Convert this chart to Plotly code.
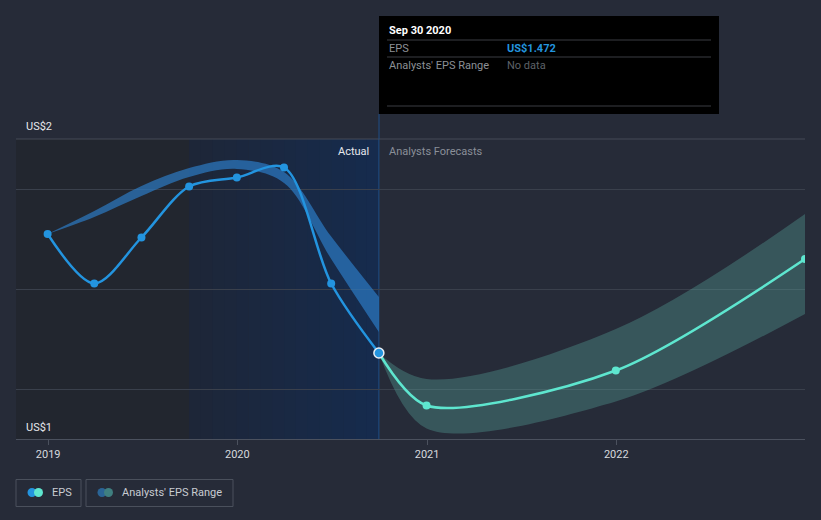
import plotly.graph_objects as go
import datetime as _dt

# ---------------- data ----------------
eps_dates = ['2018-12-31', '2019-03-31', '2019-06-30', '2019-09-30',
             '2019-12-31', '2020-03-31', '2020-06-30', '2020-09-30']
eps_values = [1.710, 1.611, 1.703, 1.805, 1.823, 1.843, 1.611, 1.472]

past_range_low = [1.710, 1.744, 1.786, 1.824, 1.840, 1.812, 1.660, 1.514]
past_range_high = [1.710, 1.756, 1.806, 1.842, 1.858, 1.834, 1.705, 1.584]

fc_dates = ['2020-09-30', '2020-12-31', '2021-12-31', '2022-12-31']
fc_values = [1.472, 1.367, 1.437, 1.660]
fc_low = [1.472, 1.321, 1.375, 1.550]
fc_high = [1.472, 1.420, 1.520, 1.750]

y_label_vals = [1.9, 1.3]
y_label_text = ['US$2', 'US$1']
grid_vals = [1.4, 1.6, 1.8]

tooltip_date = 'Sep 30 2020'
tooltip_eps = 'US$1.472'

# ---------------- layout helpers ----------------
W, H = 821, 520
L, R, T, B = 16, 805, 139, 439
X_RANGE = ['2018-10-31', '2022-12-31']
Y_RANGE = [1.3, 1.9]

def px(x):
    return (x - L) / (R - L)

def py(y):
    return (B - y) / (B - T)

BG = '#262b38'
BLUE = '#2394df'
TEAL = '#5ee6cf'

fig = go.Figure()

# past analyst range band
fig.add_trace(go.Scatter(x=eps_dates, y=past_range_low, mode='lines',
                         line=dict(width=0, shape='spline', smoothing=1.0, color='rgba(0,0,0,0)'),
                         showlegend=False, hoverinfo='skip'))
fig.add_trace(go.Scatter(x=eps_dates, y=past_range_high, mode='lines',
                         line=dict(width=0, shape='spline', smoothing=1.0, color='rgba(0,0,0,0)'),
                         fill='tonexty', fillcolor='rgba(44,125,200,0.68)',
                         showlegend=False, hoverinfo='skip'))

# forecast range band
fig.add_trace(go.Scatter(x=fc_dates, y=fc_low, mode='lines',
                         line=dict(width=0, shape='spline', smoothing=0.9, color='rgba(0,0,0,0)'),
                         showlegend=False, hoverinfo='skip'))
fig.add_trace(go.Scatter(x=fc_dates, y=fc_high, mode='lines',
                         line=dict(width=0, shape='spline', smoothing=1.0, color='rgba(0,0,0,0)'),
                         fill='tonexty', fillcolor='rgba(95,185,172,0.30)',
                         showlegend=False, hoverinfo='skip'))

# EPS actual
fig.add_trace(go.Scatter(x=eps_dates, y=eps_values, mode='lines+markers',
                         line=dict(color=BLUE, width=2.5, shape='spline', smoothing=0.9),
                         marker=dict(color=BLUE, size=8),
                         showlegend=False, hoverinfo='skip'))

# EPS forecast
fig.add_trace(go.Scatter(x=fc_dates, y=fc_values, mode='lines',
                         line=dict(color=TEAL, width=2.5, shape='spline', smoothing=0.8),
                         showlegend=False, hoverinfo='skip'))
fig.add_trace(go.Scatter(x=fc_dates[1:], y=fc_values[1:], mode='markers',
                         marker=dict(color=TEAL, size=8),
                         showlegend=False, hoverinfo='skip'))

# highlighted last actual point
fig.add_trace(go.Scatter(x=[eps_dates[-1]], y=[eps_values[-1]], mode='markers',
                         marker=dict(color=BLUE, size=10, line=dict(color='#e8eef5', width=1.5)),
                         showlegend=False, hoverinfo='skip', cliponaxis=False))

shapes = []
# darker past region
shapes.append(dict(type='rect', xref='x', yref='y', x0=X_RANGE[0], x1=eps_dates[3],
                   y0=Y_RANGE[0], y1=Y_RANGE[1], fillcolor='#22262f', line=dict(width=0),
                   layer='below'))
# blue "actual" region as gradient slices
d0 = _dt.date(2019, 9, 30)
d1 = _dt.date(2020, 9, 30)
n = 16
c0 = (29, 38, 56)
c1 = (22, 43, 77)
span = (d1 - d0).days
for i in range(n):
    a = d0 + _dt.timedelta(days=span * i / n)
    b = d0 + _dt.timedelta(days=span * (i + 1) / n + (0.5 if i < n - 1 else 0))
    t = i / (n - 1)
    col = tuple(round(c0[k] + (c1[k] - c0[k]) * t) for k in range(3))
    shapes.append(dict(type='rect', xref='x', yref='y', x0=a.isoformat(), x1=b.isoformat(),
                       y0=Y_RANGE[0], y1=Y_RANGE[1], fillcolor='rgb(%d,%d,%d)' % col,
                       line=dict(width=0), layer='below'))
# top grid line
shapes.append(dict(type='line', xref='paper', yref='paper', x0=0, x1=1, y0=1, y1=1,
                   line=dict(color='#444a57', width=1), layer='above'))
# vertical marker line
shapes.append(dict(type='line', xref='x', yref='y', x0=eps_dates[-1], x1=eps_dates[-1],
                   y0=Y_RANGE[0], y1=Y_RANGE[1], line=dict(color='#1f4f86', width=1),
                   layer='below'))
shapes.append(dict(type='line', xref='paper', yref='paper', x0=px(379), x1=px(379),
                   y0=1, y1=py(114), line=dict(color='#1f4f86', width=1)))

# tooltip box
shapes.append(dict(type='rect', xref='paper', yref='paper', x0=px(379), x1=px(719),
                   y0=py(114), y1=py(16), fillcolor='#000000', line=dict(width=0)))
for yy in (40, 57, 106):
    shapes.append(dict(type='line', xref='paper', yref='paper', x0=px(387), x1=px(711),
                       y0=py(yy), y1=py(yy), line=dict(color='#3b3d42', width=1)))

# legend boxes
for (x0, x1) in ((16, 81), (86, 233)):
    shapes.append(dict(type='rect', xref='paper', yref='paper', x0=px(x0), x1=px(x1),
                       y0=py(506.5), y1=py(479.5), fillcolor='rgba(0,0,0,0)',
                       line=dict(color='#4a505c', width=1)))

def circle(cx, cy, r, color):
    return dict(type='circle', xref='paper', yref='paper', x0=px(cx - r), x1=px(cx + r),
                y0=py(cy + r), y1=py(cy - r), fillcolor=color, line=dict(width=0))

shapes.append(circle(32, 492.5, 4.5, BLUE))
shapes.append(circle(38.5, 492.5, 4.5, TEAL))
shapes.append(circle(102, 492.5, 4.5, '#2a6496'))
shapes.append(circle(108.5, 492.5, 4.5, '#3f7f80'))

annotations = []
FONT = 'Roboto, Open Sans, sans-serif'

def ann(text, x, y, color, size=11, anchor='left', bold=False):
    if bold:
        text = '<b>%s</b>' % text
    annotations.append(dict(text=text, xref='paper', yref='paper', x=px(x), y=py(y),
                            xanchor=anchor, yanchor='middle', showarrow=False,
                            font=dict(color=color, size=size, family=FONT)))

ann(y_label_text[0], 24, 127, '#e6e8ec')
ann(y_label_text[1], 24, 427, '#e6e8ec')
ann('Actual', 371, 151, '#e6e8ec', anchor='right')
ann('Analysts Forecasts', 387, 151, '#8a8f98')
ann(tooltip_date, 387, 30, '#ffffff', bold=True)
ann('EPS', 387, 48, '#8c9096')
ann(tooltip_eps, 505, 48, BLUE, bold=True)
ann("Analysts' EPS Range", 387, 65, '#8c9096')
ann('No data', 505, 65, '#5e6268')
ann('EPS', 50, 492.5, '#c8ccd2', size=11)
ann("Analysts' EPS Range", 120, 492.5, '#c8ccd2', size=11)

fig.update_layout(
    width=W, height=H,
    margin=dict(l=L, r=W - R, t=T, b=H - B),
    paper_bgcolor=BG, plot_bgcolor=BG,
    showlegend=False, hovermode=False,
    font=dict(family=FONT, color='#d0d3d8', size=11),
    shapes=shapes, annotations=annotations,
    xaxis=dict(type='date', range=X_RANGE, showgrid=False, zeroline=False,
               showline=True, linecolor='#4b515e', linewidth=1,
               ticks='outside', ticklen=5, tickcolor='#4b515e',
               dtick='M12', tick0='2019-01-01', tickformat='%Y',
               tickfont=dict(color='#d6d9de', size=11)),
    yaxis=dict(range=Y_RANGE, tickvals=grid_vals, showticklabels=False,
               showgrid=True, gridcolor='#3a404c', gridwidth=1, zeroline=False,
               showline=False, ticks=''),
)

fig.write_html('out.html', config={'displayModeBar': False},
               post_script="document.body.style.margin='0';document.body.style.overflow='hidden';"
                           "document.body.style.background='%s';" % BG)
